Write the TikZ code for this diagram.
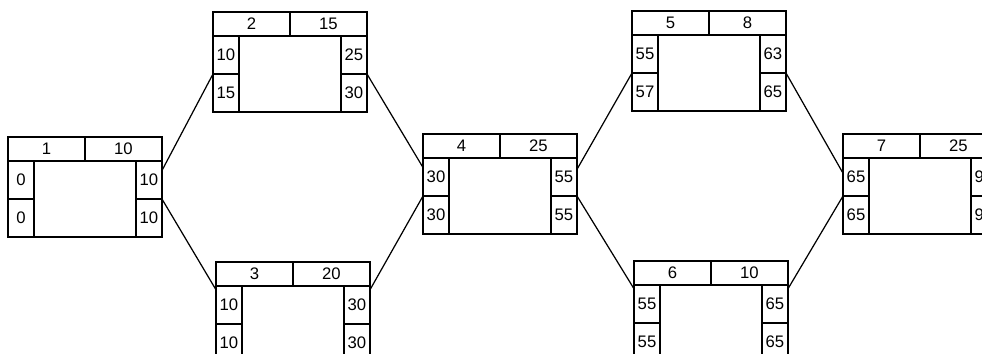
\documentclass[tikz,border=0pt]{standalone}
\usepackage{fontspec}
\setmainfont{Liberation Sans}
\usetikzlibrary{positioning,calc}

\begin{document}
\begin{tikzpicture}[
  x=0.02cm, y=-0.02cm,
  every node/.style={draw,line width=0.8pt,inner sep=0pt,outer sep=0pt,font=\fontsize{9.5}{10}\selectfont},
  half/.style={minimum width=1.54cm,minimum height=0.48cm},
  cell/.style={minimum width=0.52cm,minimum height=0.76cm},
  body/.style={minimum width=2.04cm,minimum height=1.52cm},
  link/.style={line width=0.7pt},
]
\useasboundingbox (0,0) rectangle (982,354);
\clip (0,0) rectangle (982,354);

% Activities: number/x/y/duration/ES/LS/EF/LF
\foreach \n/\px/\py/\d/\es/\ls/\ef/\lf in {
    1/8/137/10/0/0/10/10,
    2/213/12/15/10/15/25/30,
    3/216/262/20/10/10/30/30,
    4/423/134/25/30/30/55/55,
    5/632/11/8/55/57/63/65,
    6/634/261/10/55/55/65/65,
    7/843/134/25/65/65/90/90} {
  \node[half,anchor=north west] (a\n-id) at (\px,\py) {\n};
  \node[half,anchor=north west] (a\n-d) at (a\n-id.north east) {\d};
  \node[cell,anchor=north west] (a\n-es) at (a\n-id.south west) {\es};
  \node[cell,anchor=north west] (a\n-ls) at (a\n-es.south west) {\ls};
  \node[body,anchor=north west] (a\n) at (a\n-es.north east) {};
  \node[cell,anchor=north west] (a\n-ef) at (a\n.north east) {\ef};
  \node[cell,anchor=north west] (a\n-lf) at (a\n-ef.south west) {\lf};
}

% Links
\draw[link] ($(a1-ef.north east)!0.25!(a1-ef.south east)$) -- (a2-es.south west);
\draw[link] (a1-lf.north east) -- ($(a3-es.north west)!0.1!(a3-es.south west)$);
\draw[link] (a2-ef.south east) -- ($(a4-es.north west)!0.25!(a4-es.south west)$);
\draw[link] ($(a3-ef.north east)!0.1!(a3-ef.south east)$) -- (a4-ls.north west);
\draw[link] ($(a4-ef.north east)!0.3!(a4-ef.south east)$) -- (a5-es.south west);
\draw[link] (a4-lf.north east) -- ($(a6-es.north west)!0.1!(a6-es.south west)$);
\draw[link] (a5-ef.south east) -- ($(a7-es.north west)!0.4!(a7-es.south west)$);
\draw[link] ($(a6-ef.north east)!0.1!(a6-ef.south east)$) -- (a7-ls.north west);

\end{tikzpicture}
\end{document}
